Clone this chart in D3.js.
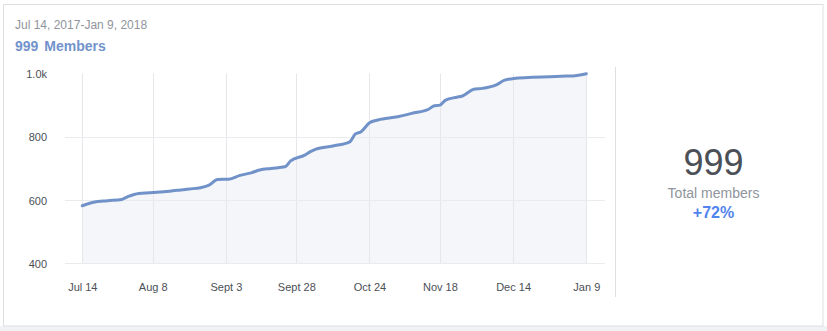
<!DOCTYPE html>
<html>
<head>
<meta charset="utf-8">
<script src="https://cdn.jsdelivr.net/npm/d3@7"></script>
<style>
  html, body { margin: 0; padding: 0; background: #fff; }
  svg { display: block; font-family: "Liberation Sans", Arial, Helvetica, sans-serif; }
</style>
</head>
<body>
<svg id="chart" width="827" height="331"></svg>
<script>
// ---- data ----
const dates = ["2017-07-14","2017-07-18","2017-07-23","2017-07-28","2017-07-30","2017-08-03","2017-08-07",
  "2017-08-14","2017-08-18","2017-08-21","2017-08-25","2017-08-28","2017-08-31","2017-09-04","2017-09-08",
  "2017-09-12","2017-09-15","2017-09-19","2017-09-24","2017-09-26","2017-10-01","2017-10-03","2017-10-05",
  "2017-10-11","2017-10-17","2017-10-19","2017-10-21","2017-10-24","2017-10-27","2017-11-03","2017-11-08",
  "2017-11-14","2017-11-16","2017-11-18","2017-11-20","2017-11-24","2017-11-26","2017-11-30","2017-12-03",
  "2017-12-08","2017-12-11","2017-12-15","2017-12-21","2017-12-27","2018-01-02","2018-01-05","2018-01-09"];
const members = [582,593,598,602,610,621,623,628,632,635,639,647,665,666,678,686,695,700,705,724,742,753,761,
  771,784,809,816,844,853,863,874,887,898,900,916,925,929,950,953,964,979,985,988,990,992,993,999];
const xTickDates = ["2017-07-14","2017-08-08","2017-09-03","2017-09-28","2017-10-24","2017-11-18","2017-12-14","2018-01-09"];
const xTickLabels = ["Jul 14","Aug 8","Sept 3","Sept 28","Oct 24","Nov 18","Dec 14","Jan 9"];
const yTicks = [400, 600, 800, 1000];
const yTickLabels = ["400", "600", "800", "1.0k"];
const rangeLabel = "Jul 14, 2017-Jan 9, 2018";
const totalMembers = 999;
const changeLabel = "+72%";

// ---- setup ----
const parse = d3.timeParse("%Y-%m-%d");
const data = dates.map((d, i) => ({ date: parse(d), value: members[i] }));
const svg = d3.select("#chart");

// page / card
svg.append("rect").attr("x", 0).attr("y", 326).attr("width", 827).attr("height", 5).attr("fill", "#f1f2f5");
svg.append("rect").attr("x", 3.5).attr("y", 4.5).attr("width", 819.5).attr("height", 321.5)
  .attr("fill", "#fff").attr("stroke", "#dddfe2");

// header
svg.append("text").attr("x", 15).attr("y", 28.5).attr("font-size", 12).attr("fill", "#90949c").text(rangeLabel);
const h2 = svg.append("text").attr("x", 15).attr("y", 50.5).attr("font-size", 14).attr("font-weight", "bold").attr("fill", "#7293cb");
h2.append("tspan").text(String(totalMembers));
h2.append("tspan").attr("dx", 6).text("Members");

// scales
const x = d3.scaleTime().domain([parse("2017-07-14"), parse("2018-01-09")]).range([82.3, 586.3]);
const y = d3.scaleLinear().domain([400, 1000]).range([263.3, 73.5]);

// area
const area = d3.area().x(d => x(d.date)).y0(y(400)).y1(d => y(d.value)).curve(d3.curveMonotoneX);
svg.append("path").datum(data).attr("d", area).attr("fill", "#f5f6fa");

// grid
svg.append("g").selectAll("line").data(xTickDates.map(parse)).join("line")
  .attr("x1", d => Math.round(x(d)) + 0.5).attr("x2", d => Math.round(x(d)) + 0.5)
  .attr("y1", y(1000)).attr("y2", y(400))
  .attr("stroke", "#e6e7eb");
svg.append("g").selectAll("line").data(yTicks.filter(v => v < 1000)).join("line")
  .attr("x1", 65).attr("x2", 605)
  .attr("y1", d => Math.round(y(d)) + 0.5).attr("y2", d => Math.round(y(d)) + 0.5)
  .attr("stroke", "#eaebee");

// line
const line = d3.line().x(d => x(d.date)).y(d => y(d.value)).curve(d3.curveMonotoneX);
svg.append("path").datum(data).attr("d", line).attr("fill", "none")
  .attr("stroke", "#7092c8").attr("stroke-width", 3).attr("stroke-linejoin", "round").attr("stroke-linecap", "round");

// y axis
const yAxis = d3.axisLeft(y).tickValues(yTicks).tickSize(0).tickPadding(0)
  .tickFormat((d, i) => yTickLabels[i]);
const gy = svg.append("g").attr("transform", "translate(47,0.5)").call(yAxis);
gy.select(".domain").remove();
gy.selectAll("text").attr("font-size", 11).attr("fill", "#4b4f56").attr("font-family", null);

// x axis
const xAxis = d3.axisBottom(x).tickValues(xTickDates.map(parse)).tickSize(0).tickPadding(0)
  .tickFormat((d, i) => xTickLabels[i]);
const gx = svg.append("g").attr("transform", "translate(0,283.3)").call(xAxis);
gx.select(".domain").remove();
gx.selectAll("text").attr("font-size", 11).attr("fill", "#4b4f56").attr("font-family", null);

// separator
svg.append("line").attr("x1", 615.5).attr("x2", 615.5).attr("y1", 67).attr("y2", 297).attr("stroke", "#dddfe2");

// summary
svg.append("text").attr("x", 713.5).attr("y", 175).attr("text-anchor", "middle").attr("font-size", 36)
  .attr("fill", "#4b4f56").text(String(totalMembers));
svg.append("text").attr("x", 713.5).attr("y", 197.5).attr("text-anchor", "middle").attr("font-size", 14)
  .attr("fill", "#90949c").text("Total members");
svg.append("text").attr("x", 713.5).attr("y", 218).attr("text-anchor", "middle").attr("font-size", 16)
  .attr("font-weight", "bold").attr("fill", "#5184ee").text(changeLabel);
</script>
</body>
</html>
